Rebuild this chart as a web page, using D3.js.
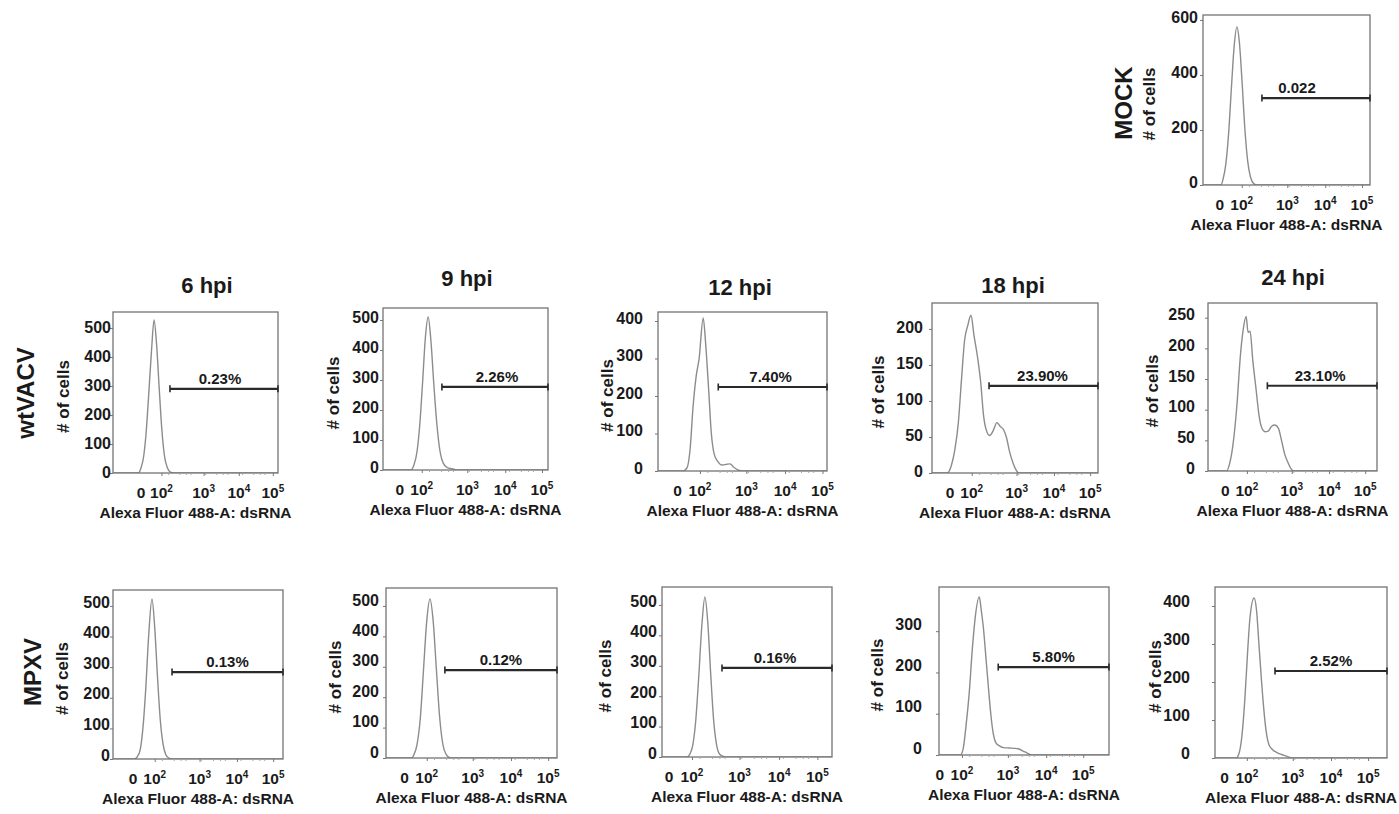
<!DOCTYPE html>
<html><head><meta charset="utf-8">
<script src="https://cdn.jsdelivr.net/npm/d3@7"></script>
<style>
html,body{margin:0;padding:0;background:#fff;}
svg{display:block;font-family:"Liberation Sans",Arial,Helvetica,sans-serif;font-weight:bold;}
</style></head><body>
<svg id="chart" width="1399" height="814"></svg>
<script>
// ---------------- DATA ----------------
const rowLabels = ["MOCK", "wtVACV", "MPXV"];
const timeLabels = ["6 hpi", "9 hpi", "12 hpi", "18 hpi", "24 hpi"];
const panelIds = ["mock", "wt6", "wt9", "wt12", "wt18", "wt24", "mp6", "mp9", "mp12", "mp18", "mp24"];
const gateLabels = ["0.022", "0.23%", "2.26%", "7.40%", "23.90%", "23.10%", "0.13%", "0.12%", "0.16%", "5.80%", "2.52%"];
// gate start, in decades of the fluorescence axis
const gateStarts = [2.625, 2.35, 2.625, 2.57, 2.56, 2.64, 2.56, 2.57, 2.84, 3.02, 2.82];
// gate height, in # of cells
const gateCounts = [316, 290, 277, 224, 121, 139, 284, 289, 293, 213, 229];
const yTickSets = [
  [0, 200, 400, 600],
  [0, 100, 200, 300, 400, 500],
  [0, 100, 200, 300, 400, 500],
  [0, 100, 200, 300, 400],
  [0, 50, 100, 150, 200],
  [0, 50, 100, 150, 200, 250],
  [0, 100, 200, 300, 400, 500],
  [0, 100, 200, 300, 400, 500],
  [0, 100, 200, 300, 400, 500],
  [0, 100, 200, 300],
  [0, 100, 200, 300, 400]
];
const yMaxes = [618, 555, 540, 424, 236, 274, 552, 559, 559, 407, 450];
// x axis tick labels, placed on the display (decade) axis where the figure prints them
const xTickValues = [1.57, 2.12, 3.26, 4.21, 5.13];
const xTickBase = ["0", "10", "10", "10", "10"];
const xTickExp = ["", "2", "3", "4", "5"];
const xAxisTitle = "Alexa Fluor 488-A: dsRNA";
const yAxisTitle = "# of cells";

// histograms: [decade, # of cells]
const histMock = [[1.15,0],[1.6,0],[1.65,20],[1.72,75],[1.79,185],[1.86,350],[1.93,505],[2.0,575],[2.06,520],[2.13,370],[2.2,200],[2.27,85],[2.34,28],[2.42,5],[2.5,0],[5.33,0]];
const histWt6 = [[0.81,0],[1.5,0],[1.56,15],[1.63,50],[1.7,130],[1.77,260],[1.85,420],[1.92,528],[1.99,440],[2.06,290],[2.13,150],[2.2,60],[2.28,18],[2.36,3],[2.45,0],[5.27,0]];
const histWt9 = [[1.15,0],[1.85,0],[1.92,15],[2.0,60],[2.07,150],[2.14,290],[2.21,440],[2.28,510],[2.35,430],[2.42,290],[2.5,150],[2.58,60],[2.66,22],[2.76,8],[2.88,4],[3.0,0],[5.28,0]];
const histWt12 = [[1.09,0],[1.7,0],[1.8,8],[1.88,60],[1.95,170],[2.03,255],[2.1,300],[2.2,408],[2.26,340],[2.33,224],[2.4,100],[2.47,45],[2.56,25],[2.66,16],[2.78,18],[2.86,19],[2.95,10],[3.05,3],[3.15,0],[5.24,0]];
const histWt18 = [[1.11,0],[1.5,0],[1.6,10],[1.69,32],[1.78,70],[1.86,130],[1.94,185],[2.02,205],[2.1,219],[2.18,190],[2.27,160],[2.35,125],[2.42,80],[2.5,58],[2.58,52],[2.66,58],[2.76,70],[2.84,65],[2.93,60],[3.0,50],[3.08,30],[3.17,14],[3.25,4],[3.32,0],[5.33,0]];
const histWt24 = [[1.13,0],[1.6,0],[1.68,12],[1.77,45],[1.87,111],[1.95,185],[2.02,228],[2.1,252],[2.15,226],[2.2,228],[2.27,180],[2.35,135],[2.43,90],[2.5,70],[2.58,64],[2.66,65],[2.75,73],[2.83,75],[2.92,70],[3.0,50],[3.08,28],[3.17,13],[3.25,3],[3.32,0],[5.43,0]];
const histMp6 = [[1.06,0],[1.6,0],[1.68,8],[1.75,30],[1.82,100],[1.89,225],[1.97,410],[2.05,523],[2.12,430],[2.19,270],[2.26,130],[2.33,50],[2.4,15],[2.48,3],[2.56,0],[5.38,0]];
const histMp9 = [[1.11,0],[1.74,0],[1.8,10],[1.88,45],[1.96,130],[2.04,290],[2.12,450],[2.2,523],[2.28,450],[2.36,290],[2.44,135],[2.52,45],[2.6,12],[2.68,2],[2.76,0],[5.35,0]];
const histMp12 = [[1.4,0],[2.0,0],[2.07,10],[2.14,40],[2.21,120],[2.28,260],[2.36,440],[2.43,526],[2.5,440],[2.57,270],[2.64,120],[2.71,40],[2.78,10],[2.86,3],[2.95,0],[5.48,0]];
const histMp18 = [[1.55,0],[2.08,0],[2.15,15],[2.22,70],[2.3,150],[2.38,260],[2.45,334],[2.55,383],[2.6,350],[2.65,310],[2.72,230],[2.78,160],[2.84,95],[2.9,50],[2.96,30],[3.05,22],[3.15,18],[3.3,17],[3.45,16],[3.55,14],[3.65,9],[3.75,4],[3.85,0],[5.77,0]];
const histMp24 = [[1.33,0],[1.85,0],[1.92,10],[2.0,60],[2.07,153],[2.14,280],[2.2,371],[2.3,421],[2.36,390],[2.42,300],[2.48,210],[2.54,130],[2.6,70],[2.67,35],[2.76,22],[2.86,15],[2.96,10],[3.1,5],[3.25,0],[5.6,0]];
const histograms = [histMock, histWt6, histWt9, histWt12, histWt18, histWt24, histMp6, histMp9, histMp12, histMp18, histMp24];

// ---------------- LAYOUT ----------------
const boxes = [
  [1203, 15, 1370, 185],
  [113, 312, 278, 473], [383, 308, 548, 470], [658, 312, 827, 471], [932, 303, 1098, 473], [1208, 303, 1377, 471],
  [113, 590, 283, 759], [386, 588, 557, 758], [662, 587, 832, 757], [939, 587, 1109, 755], [1215, 587, 1387, 758]
];
const xDomains = [
  [1.15, 5.33],
  [0.81, 5.27], [1.15, 5.28], [1.09, 5.24], [1.11, 5.33], [1.13, 5.43],
  [1.06, 5.38], [1.11, 5.35], [1.40, 5.48], [1.55, 5.77], [1.33, 5.60]
];
const yLabelGaps = [5, 2, 4, 15, 9, 13, 3, 7, 5, 17, 25];
const yLabelDy = [-3, -1, -3, -3, -2, -3, -4, -6, -4, -7, -5];
const yTitleDx = [-54, -50, -50, -51, -54, -56, -51, -51, -57, -62, -60];
const gateLabelDx = [-19, -4, 2, -2, -1, -2, 0, 0, -2, 0, 0];
const titlePos = [[207, 285], [467, 278], [740, 287], [1013, 285], [1293, 277]];
const rowLabelPos = [[1123, 103], [25, 393], [32, 672]];

const FONT = '"Liberation Sans", Arial, Helvetica, sans-serif';
const INK = "#1a1a1a";

const svg = d3.select("#chart");

panelIds.forEach((id, i) => {
  const [L, T, R, B] = boxes[i];
  const x = d3.scaleLinear().domain(xDomains[i]).range([L, R]);
  const y = d3.scaleLinear().domain([0, yMaxes[i]]).range([B, T]);
  const g = svg.append("g").attr("class", "panel-" + id);

  g.append("clipPath").attr("id", "clip-" + id)
    .append("rect").attr("x", L).attr("y", T - 1).attr("width", R - L).attr("height", B - T + 1);

  // histogram
  const line = d3.line().x(d => x(d[0])).y(d => y(d[1])).curve(d3.curveMonotoneX);
  g.append("path").datum(histograms[i])
    .attr("d", line).attr("fill", "none")
    .attr("stroke", "#8c8c8c").attr("stroke-width", 1.4)
    .attr("clip-path", `url(#clip-${id})`);

  // frame
  g.append("rect").attr("x", L).attr("y", T).attr("width", R - L).attr("height", B - T)
    .attr("fill", "none").attr("stroke", "#747474").attr("stroke-width", 1.3);

  // y axis
  const ya = g.append("g").attr("transform", `translate(${L},0)`)
    .call(d3.axisLeft(y).tickValues(yTickSets[i]).tickSize(3)
      .tickPadding(yLabelGaps[i] - 3).tickFormat(d3.format("d")));
  ya.select(".domain").remove();
  ya.attr("font-family", FONT).attr("font-size", 16).attr("font-weight", "bold");
  ya.selectAll("line").attr("stroke", "#777");
  ya.selectAll("text").attr("fill", INK).attr("transform", `translate(0,${yLabelDy[i]})`);

  // x axis ticks (major at printed label positions, minor dotted)
  const xa = g.append("g").attr("transform", `translate(0,${B})`)
    .call(d3.axisBottom(x).tickValues(xTickValues.slice(1).filter(v => v < xDomains[i][1])).tickSize(3).tickFormat(""));
  xa.select(".domain").remove();
  xa.selectAll("line").attr("stroke", "#777");
  const minor = [];
  [2, 3, 4].forEach(k => { for (let m = 2; m <= 9; m += 2) minor.push(k + Math.log10(m)); });
  const xm = g.append("g").attr("transform", `translate(0,${B})`)
    .call(d3.axisBottom(x).tickValues(minor.filter(v => v > xDomains[i][0] && v < xDomains[i][1])).tickSize(2).tickFormat(""));
  xm.select(".domain").remove();
  xm.selectAll("line").attr("stroke", "#aaa");

  // x tick labels with superscripts
  const xl = g.selectAll("text.xtick").data(xTickValues).join("text")
    .attr("class", "xtick")
    .attr("x", d => x(d)).attr("y", B + 25)
    .attr("text-anchor", "middle")
    .attr("font-family", FONT).attr("font-size", 15.5).attr("font-weight", "bold")
    .attr("fill", INK);
  xl.append("tspan").text((d, j) => xTickBase[j]);
  xl.append("tspan").attr("dy", -6).attr("font-size", 10).text((d, j) => xTickExp[j]);

  // axis titles
  g.append("text").attr("x", (L + R) / 2).attr("y", B + 45)
    .attr("text-anchor", "middle").attr("font-family", FONT)
    .attr("font-size", 15.5).attr("font-weight", "bold").attr("fill", INK)
    .text(xAxisTitle);
  const ytx = L + yTitleDx[i], yty = (T + B) / 2 + 4;
  g.append("text").attr("transform", `translate(${ytx},${yty}) rotate(-90)`)
    .attr("text-anchor", "middle").attr("dominant-baseline", "central")
    .attr("font-family", FONT).attr("font-size", 17).attr("font-weight", "bold").attr("fill", INK)
    .text(yAxisTitle);

  // gate
  const gx0 = x(gateStarts[i]), gx1 = R, gy = y(gateCounts[i]);
  g.append("line").attr("x1", gx0).attr("x2", gx1).attr("y1", gy).attr("y2", gy)
    .attr("stroke", "#2a2a2a").attr("stroke-width", 2.2);
  [gx0, gx1].forEach(cx => {
    g.append("line").attr("x1", cx).attr("x2", cx).attr("y1", gy - 3.5).attr("y2", gy + 3.5)
      .attr("stroke", "#2a2a2a").attr("stroke-width", 1.6);
  });
  g.append("text").attr("x", (gx0 + gx1) / 2 + gateLabelDx[i]).attr("y", gy - 5)
    .attr("text-anchor", "middle").attr("font-family", FONT)
    .attr("font-size", 15).attr("font-weight", "bold").attr("fill", INK)
    .text(gateLabels[i]);
});

// column titles
svg.selectAll("text.coltitle").data(timeLabels).join("text")
  .attr("class", "coltitle")
  .attr("x", (d, j) => titlePos[j][0]).attr("y", (d, j) => titlePos[j][1] + 8)
  .attr("text-anchor", "middle").attr("font-family", FONT)
  .attr("font-size", 22).attr("font-weight", "bold").attr("fill", INK)
  .text(d => d);

// row labels
svg.selectAll("text.rowlabel").data(rowLabels).join("text")
  .attr("class", "rowlabel")
  .attr("transform", (d, j) => `translate(${rowLabelPos[j][0]},${rowLabelPos[j][1]}) rotate(-90)`)
  .attr("text-anchor", "middle").attr("dominant-baseline", "central")
  .attr("font-family", FONT).attr("font-size", 24).attr("font-weight", "bold").attr("fill", INK)
  .text(d => d);
</script>
</body></html>
